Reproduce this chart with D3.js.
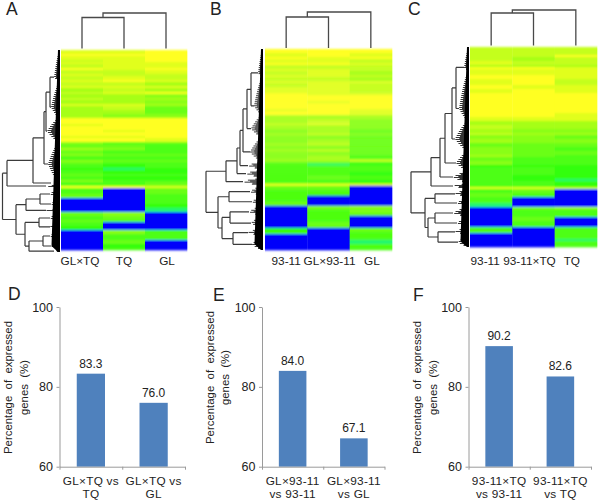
<!DOCTYPE html>
<html>
<head>
<meta charset="utf-8">
<script src="https://cdn.jsdelivr.net/npm/d3@7/dist/d3.min.js"></script>
<style>
html,body{margin:0;padding:0;background:#fff}
svg{display:block}
text{font-family:"Liberation Sans",Arial,sans-serif;fill:#222}
</style>
</head>
<body>
<svg id="c" width="600" height="502"></svg>
<script>
// ---------- data ----------
// heatmap runs: [rows, col1, col2, col3]; 0 = no expression (blue), 1..9 = teal/green to yellow
const heatA = [[2,8,8,9],[1,9,9,9],[2,8,8,9],[1,7,8,9],[1,8,8,8],[2,7,8,8],[1,9,8,9],[2,7,7,8],[1,8,7,7],[2,7,8,7],[1,8,9,8],[2,7,7,6],[1,8,8,8],[2,6,7,6],[1,7,8,9],[2,6,6,5],[1,7,6,6],[2,6,6,5],[1,8,8,6],[2,6,7,4],[2,6,6,4],[2,6,5,5],
 [3,9,9,9],[1,8,9,9],[2,9,9,9],[1,9,8,9],[2,9,9,9],[1,8,8,9],[2,9,9,8],
 [1,5,3,4],[2,4,4,3],[1,6,5,3],[2,4,3,3],[1,5,4,4],[2,3,3,3],[1,5,4,4],[1,4,3,3],[2,3,2,3],[1,2,1,2],[2,3,2,2],[1,4,3,3],[2,3,2,2],[1,5,3,3],[2,3,3,4],
 [1,9,9,8],[3,3,0,4],[2,4,0,3],[3,0,0,3],[2,0,0,2],[2,0,0,1],[2,4,5,0],[2,3,4,0],[1,4,3,0],[2,3,0,0],[2,2,0,0],[2,0,5,3],[1,0,3,3],[2,0,3,3],[2,0,4,0],[2,0,2,0],[1,0,3,0]];
const heatB = [[2,9,9,9],[2,8,9,8],[1,9,8,9],[2,8,8,7],[1,9,9,8],[2,7,7,7],[1,8,8,7],[2,7,8,6],[1,8,8,7],[2,7,7,6],[1,8,8,8],[2,7,8,7],[2,8,8,7],[1,8,8,7],[1,9,8,8],
 [3,9,9,9],[1,9,8,9],[3,9,9,9],[1,8,9,8],[2,9,9,8],
 [2,6,6,6],[2,6,7,5],[1,7,8,5],[2,6,6,5],[2,5,6,4],[1,6,7,5],[2,5,5,4],[2,5,6,4],[1,6,7,4],[2,5,5,4],[1,6,7,4],[2,5,5,4],[2,5,6,3],[1,6,6,8],[1,4,4,3],[1,3,1,2],[3,3,3,3],[2,3,3,2],[2,3,4,3],[2,3,3,2],
 [1,9,9,9],[2,4,4,0],[3,3,3,0],[3,3,0,0],[2,4,0,0],[1,0,5,6],[1,0,4,4],[1,0,3,5],[2,0,3,4],[3,0,3,0],[3,0,4,0],[2,2,0,4],[1,3,0,3],[3,0,0,3],[2,0,0,1],[3,0,0,3]];
const heatC = [[4,7,7,7],[1,7,7,9],[2,7,6,7],[2,8,7,7],[1,6,6,6],[1,9,9,8],[3,8,8,8],[2,9,9,8],[3,8,9,7],[2,9,8,8],[2,8,9,8],[2,9,9,9],
 [8,9,9,9],[2,9,9,8],[2,8,8,8],
 [2,6,6,6],[2,7,6,6],[2,6,5,5],[1,7,6,6],[2,5,5,4],[2,6,5,5],[2,4,4,4],[2,5,4,3],[2,5,4,4],[1,6,4,3],[2,4,3,3],[2,5,3,3],[1,2,2,2],[2,3,3,2],[2,3,3,2],[2,3,2,2],[1,3,2,1],[3,3,3,2],
 [1,8,8,7],[2,3,4,0],[2,4,3,0],[3,3,0,0],[2,1,0,0],[1,0,5,6],[2,0,3,3],[2,0,3,3],[2,0,4,0],[3,0,3,0],[3,3,0,3],[3,0,0,3],[1,0,0,1],[3,0,0,3]];

const colsA = ["GL×TQ","TQ","GL"];
const colsB = ["93-11","GL×93-11","GL"];
const colsC = ["93-11","93-11×TQ","TQ"];

// column dendrograms: merge heights [first pair, root]
const colMergeA = [31, 35.5];
const colMergeB = [31, 36];
const colMergeC = [32.5, 35.5];

// row dendrograms: N(height, children...), L(rows, cladeDepth, tipFraction)
const N = (h, ...c) => ({h, c});
const L = (n, w, t = 0.6) => ({n, w, t});
const rowTreeA = N(57.5,
  N(53,
    N(27,
      N(16,
        N(14, N(10, L(16,6,.85), L(18,9,.7)), L(12,13,.55)),
        L(20,12,.55)),
      L(1,9,.5)),
    L(2,14,.5)),
  N(44,
    N(34, N(20,L(5,10),L(5,9)), L(2,14)),
    N(35, N(21,L(5,10),L(4,10)), N(31,N(17,L(5,10),L(5,9)),L(1,6)))));
const rowTreeB = N(57,
  N(48,
    N(37,
      N(26,
        N(23,
          N(20,
            N(16, N(12, L(14,5,.85), L(19,9,.75)), L(11,12,.6)),
            L(12,13,.6)),
          L(4,15,.5)),
        L(4,17,.5)),
      L(4,20,.5))),
  N(45,
    N(34, L(5,13), L(5,11)),
    N(41,
      N(33, L(5,14), L(6,12)),
      N(30, L(4,15), L(7,11)))));
const rowTreeC = N(58,
  N(38,
    N(29,
      N(24,
        N(17, N(13, L(12,5,.85), L(25,10,.75)), L(15,14,.6)),
        L(10,13,.6)),
      L(6,16,.5)),
    L(3,16,.5)),
  N(44,
    N(34, L(4,14), L(5,12)),
    N(41,
      N(34, L(5,16), L(5,12)),
      N(31, L(4,14), L(6,11)))));

const barValsD = [83.3, 76.0];
const barValsE = [84.0, 67.1];
const barValsF = [90.2, 82.6];
const barLabelsD = [["GL×TQ vs","TQ"],["GL×TQ vs","GL"]];
const barLabelsE = [["GL×93-11","vs 93-11"],["GL×93-11","vs GL"]];
const barLabelsF = [["93-11×TQ","vs 93-11"],["93-11×TQ","vs TQ"]];
const yTicks = [60, 80, 100];
const yTitleLines = ["Percentage  of  expressed","genes  (%)"];

// ---------- layout ----------
const svg = d3.select("#c");
const colour = d3.scaleLinear().domain([1,2,9]).range(["#24f870","#30ff10","#ffff20"]).clamp(true);
const heatFill = v => v === 0 ? "#0000fb" : colour(v);

const defs = svg.append("defs");
defs.append("filter").attr("id","softCells").attr("x","-5%").attr("y","-5%").attr("width","110%").attr("height","110%")
  .append("feGaussianBlur").attr("stdDeviation","0.5 0.8");
defs.append("filter").attr("id","softTree").attr("x","-5%").attr("y","-5%").attr("width","110%").attr("height","110%")
  .append("feGaussianBlur").attr("stdDeviation",0.4);

function heatPanel(cfg){
  const g = svg.append("g");
  const cells = g.append("g").attr("filter","url(#softCells)");
  const art = g.append("g").attr("filter","url(#softTree)");
  const rows = cfg.heat.flatMap(r => d3.range(r[0]).map(() => r.slice(1)));
  const yRow = d3.scaleBand().domain(d3.range(rows.length)).range([cfg.top, cfg.bottom]);
  const xCol = d3.scaleBand().domain(cfg.cols).range([cfg.left, cfg.right]);
  const rowPos = d3.scaleLinear().domain([0, rows.length]).range([cfg.top, cfg.bottom]);

  // cells
  cells.append("g").selectAll("g").data(rows).join("g")
    .attr("transform",(d,i)=>`translate(0,${yRow(i)})`)
    .selectAll("rect").data(d=>d.map((v,j)=>({v,j}))).join("rect")
    .attr("x",d=>xCol(cfg.cols[d.j])).attr("width",xCol.bandwidth()+0.3)
    .attr("height",yRow.bandwidth()+0.3).attr("fill",d=>heatFill(d.v));

  // column dendrogram
  const cx = j => xCol(cfg.cols[j]) + xCol.bandwidth()/2;
  const yH = d3.scaleLinear().domain([0,40]).range([cfg.colBase, cfg.colBase-40]);
  const m = cfg.colMerge;
  const mid = (cx(0)+cx(1))/2;
  const colPath = d3.path();
  colPath.moveTo(cx(0),yH(0)); colPath.lineTo(cx(0),yH(m[0])); colPath.lineTo(cx(1),yH(m[0])); colPath.lineTo(cx(1),yH(0));
  colPath.moveTo(mid,yH(m[0])); colPath.lineTo(mid,yH(m[1])); colPath.lineTo(cx(2),yH(m[1])); colPath.lineTo(cx(2),yH(0));
  art.append("path").attr("d",colPath.toString()).attr("fill","none").attr("stroke","#4a4a4a").attr("stroke-width",1.3);

  // row dendrogram
  const xH = d3.scaleLinear().domain([0,60]).range([cfg.edge, cfg.edge-60]);
  const root = d3.hierarchy(cfg.tree, d=>d.c);
  let cum = 0;
  root.leaves().forEach(l=>{ l.r0 = cum; cum += l.data.n; l.r1 = cum; });
  const total = cum;
  root.eachAfter(n=>{
    if(n.children){
      n.yy = (n.children[0].yy + n.children[n.children.length-1].yy)/2;
      n.xx = xH(n.data.h);
    } else {
      n.yy = rowPos(n.r0 + (n.r1-n.r0)*n.data.t);
      n.xx = xH(n.data.w);
    }
  });
  const treePath = d3.path();
  root.descendants().filter(n=>n.children).forEach(n=>{
    const a = n.children[0], b = n.children[n.children.length-1];
    treePath.moveTo(n.xx,a.yy); treePath.lineTo(n.xx,b.yy);
    n.children.forEach(c=>{ treePath.moveTo(n.xx,c.yy); treePath.lineTo(c.xx,c.yy); });
  });
  art.append("path").attr("d",treePath.toString()).attr("fill","none").attr("stroke","#3a3a3a").attr("stroke-width",1.2);

  // dense leaf mass: a comb of fine branches per clade over a solid tapering base
  const baseDepth = d3.scaleLinear().domain([0,total*0.97,total]).range([2,8.5,2]);
  const comb = d3.path();
  root.leaves().forEach(l=>{
    const span = l.r1 - l.r0, w = l.data.w, t = l.data.t;
    const count = Math.max(2, Math.round(span*2));
    d3.range(count).forEach(i=>{
      const f = (i+0.5)/count;
      const env = f < t ? Math.pow(f/t,0.6) : Math.pow((1-f)/(1-t),0.6);
      const len = w * env * (i%2 ? 0.7 : 1);
      const y = rowPos(l.r0 + f*span);
      comb.moveTo(xH(0),y); comb.lineTo(xH(len),y);
    });
  });
  art.append("path").attr("d",comb.toString()).attr("fill","none").attr("stroke","#000").attr("stroke-width",0.8);
  const base = d3.area().x0(xH(0)).x1(d=>xH(baseDepth(d))).y(d=>rowPos(d));
  art.append("path").attr("d",base(d3.range(total+1))).attr("fill","#000");

  // labels
  g.append("g").selectAll("text").data(cfg.cols).join("text")
    .attr("x",(d,j)=>cx(j)+cfg.labelShift[j]).attr("y",265)
    .attr("text-anchor","middle").attr("font-size",11.8).text(d=>d);
  g.append("text").attr("x",cfg.letter[0]).attr("y",cfg.letter[1]).attr("font-size",17.5).text(cfg.name);
}

function barPanel(cfg){
  const g = svg.append("g");
  const y = d3.scaleLinear().domain([60,100]).range([466.7,307]);
  const x = d3.scaleBand().domain(d3.range(cfg.vals.length)).range([cfg.left,cfg.right]).paddingInner(.55).paddingOuter(.275);
  const xEdges = d3.scaleLinear().domain([0,cfg.vals.length]).range([cfg.left,cfg.right]);

  g.append("g").selectAll("rect").data(cfg.vals).join("rect")
    .attr("x",(d,i)=>x(i)).attr("width",x.bandwidth())
    .attr("y",d=>y(d)).attr("height",d=>y(60)-y(d)).attr("fill","#4f81bd");

  const ax = g.append("g").attr("transform",`translate(${cfg.left},0)`)
    .call(d3.axisLeft(y).tickValues(yTicks).tickSize(3).tickSizeOuter(0).tickPadding(3.5));
  const bx = g.append("g").attr("transform",`translate(0,${y(60)})`)
    .call(d3.axisBottom(xEdges).tickValues(d3.range(cfg.vals.length+1)).tickSize(3).tickSizeOuter(0).tickFormat(""));
  [ax,bx].forEach(a=>{a.selectAll("path,line").attr("stroke","#9a9a9a").attr("stroke-width",1);});
  ax.selectAll("text").attr("font-size",12.5).attr("fill","#222").style("font-family",'"Liberation Sans",Arial,sans-serif');

  g.append("g").selectAll("text").data(cfg.vals).join("text")
    .attr("x",(d,i)=>x(i)+x.bandwidth()/2).attr("y",d=>y(d)-6)
    .attr("text-anchor","middle").attr("font-size",12).text(d=>d.toFixed(1));

  cfg.labels.forEach((lines,i)=>{
    lines.forEach((t,k)=>{
      g.append("text").attr("x",x(i)+x.bandwidth()/2).attr("y",485+k*13.2)
        .attr("text-anchor","middle").attr("font-size",11.8).attr("letter-spacing",0.25).text(t);
    });
  });

  yTitleLines.forEach((t,k)=>{
    g.append("text")
      .attr("transform",`translate(${cfg.titleX[k]},${cfg.titleY}) rotate(-90)`)
      .attr("text-anchor","middle").attr("font-size",11.4)
      .style("white-space","pre").attr("fill","#333").text(t);
  });
  g.append("text").attr("x",cfg.letter[0]).attr("y",cfg.letter[1]).attr("font-size",17.5).text(cfg.name);
}

heatPanel({name:"A",heat:heatA,cols:colsA,colMerge:colMergeA,tree:rowTreeA,left:61,right:187,top:50,bottom:250,edge:60,colBase:48.5,labelShift:[-2,0,1],letter:[6,15]});
heatPanel({name:"B",heat:heatB,cols:colsB,colMerge:colMergeB,tree:rowTreeB,left:265,right:392,top:49,bottom:250,edge:263,colBase:48,labelShift:[0,1,1],letter:[210,15]});
heatPanel({name:"C",heat:heatC,cols:colsC,colMerge:colMergeC,tree:rowTreeC,left:470,right:597,top:47,bottom:247,edge:469,colBase:45.5,labelShift:[-6,-4,-4],letter:[408,15]});

barPanel({name:"D",vals:barValsD,labels:barLabelsD,left:59.5,right:185,titleX:[12,28],titleY:387.5,letter:[8,300]});
barPanel({name:"E",vals:barValsE,labels:barLabelsE,left:262,right:384.5,titleX:[214,229],titleY:377.5,letter:[213,300.5]});
barPanel({name:"F",vals:barValsF,labels:barLabelsF,left:468.5,right:591,titleX:[421,437],titleY:387.5,letter:[413,300.5]});
</script>
</body>
</html>
